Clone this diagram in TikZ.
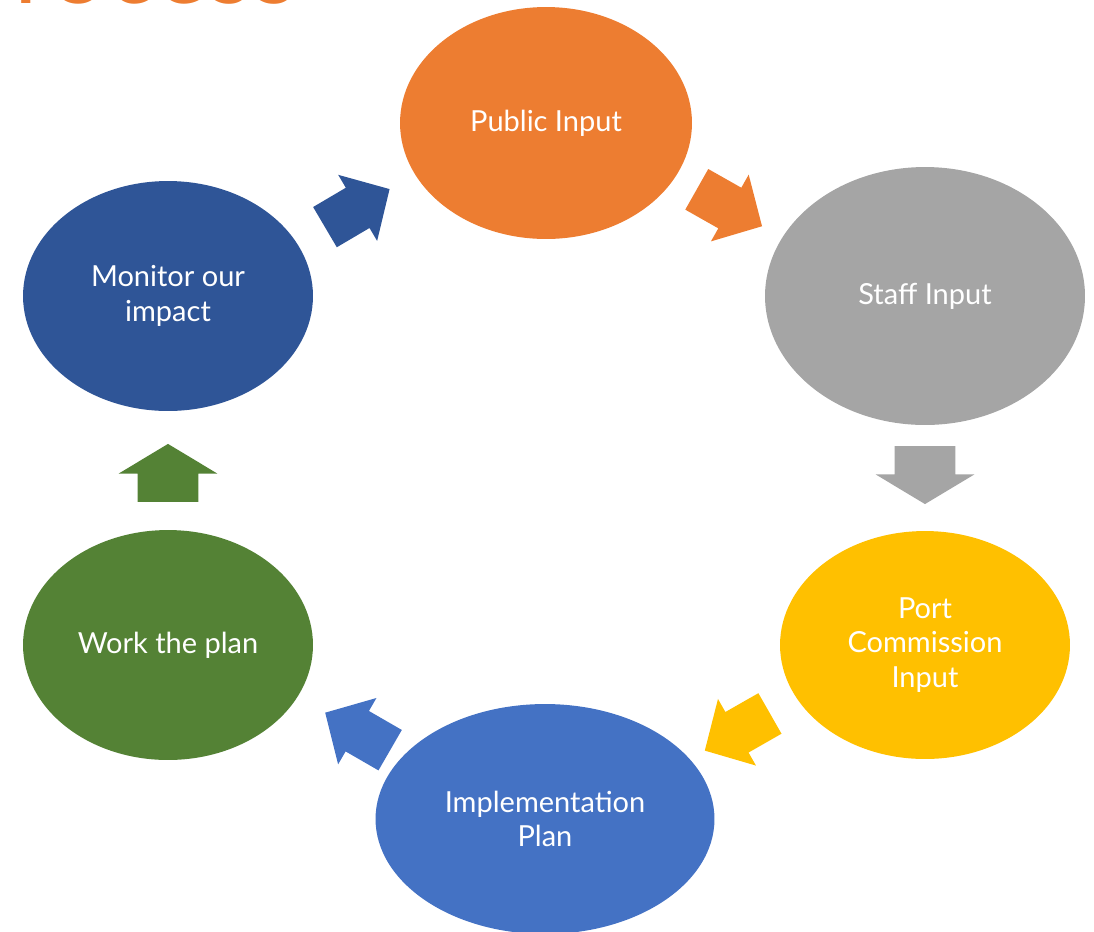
\documentclass[tikz,border=0pt]{standalone}
\usepackage{fontspec}
\setmainfont{Lato}
\usetikzlibrary{shapes.geometric,shapes.arrows,calc}
\definecolor{puborange}{HTML}{ED7D31}
\definecolor{staffgray}{HTML}{A5A5A5}
\definecolor{portgold}{HTML}{FFC000}
\definecolor{implblue}{HTML}{4472C4}
\definecolor{workgreen}{HTML}{548235}
\definecolor{mondark}{HTML}{2F5597}
\begin{document}
\begin{tikzpicture}[x=0.02cm, y=-0.02cm,
  stage/.style={ellipse, fill=#1, text=white, inner sep=0pt, align=center,
    font=\fontsize{16.5}{19.8}\selectfont},
  turn/.style={single arrow, fill=#1, inner xsep=0pt, inner ysep=0.46cm,
    minimum height=1.5cm, minimum width=1.52cm,
    single arrow head extend=0.3cm, single arrow tip angle=92},
  upright/.style={single arrow, fill=#1, inner xsep=0pt, inner ysep=0.6cm,
    minimum height=1.16cm, minimum width=1.96cm,
    single arrow head extend=0.38cm, single arrow tip angle=118}]
\useasboundingbox (0,0) rectangle (1094,931);
% title, mostly cut off by the page
\node [anchor=base west, text=puborange, font=\fontsize{58}{66}\selectfont] (title) at (-52,3) {Process};
% the six stages
\node [stage=puborange, minimum width=5.84cm, minimum height=4.64cm] (pub) at (546,123) {Public Input};
\node [stage=staffgray, minimum width=6.4cm, minimum height=5.16cm] (staff) at (925,296) {Staff Input};
\node [stage=portgold, minimum width=5.8cm, minimum height=4.56cm] (port) at (925,645) {Port\\Commission\\Input};
\node [stage=implblue, minimum width=6.78cm, minimum height=4.6cm] (impl) at (545,819) {Implementation\\Plan};
\node [stage=workgreen, minimum width=5.8cm, minimum height=4.6cm] (work) at (168,645) {Work the plan};
\node [stage=mondark, minimum width=5.8cm, minimum height=4.6cm] (mon) at (168,296) {Monitor our\\impact};
% block arrows between them
\node [turn=puborange, rotate=-29.5] (ar1) at ($(pub)!.458!(staff)$) {};
\node [upright=staffgray, rotate=-90] (ar2) at ($(staff)!.487!(port)$) {};
\node [turn=portgold, rotate=209.7] (ar3) at ($(port)!.468!(impl)$) {};
\node [turn=implblue, rotate=150] (ar4) at ($(impl)!.471!(work)$) {};
\node [upright=workgreen, rotate=90] (ar5) at ($(work)!.467!(mon)$) {};
\node [turn=mondark, rotate=30.5] (ar6) at ($(mon)!.475!(pub)$) {};
\end{tikzpicture}
\end{document}
